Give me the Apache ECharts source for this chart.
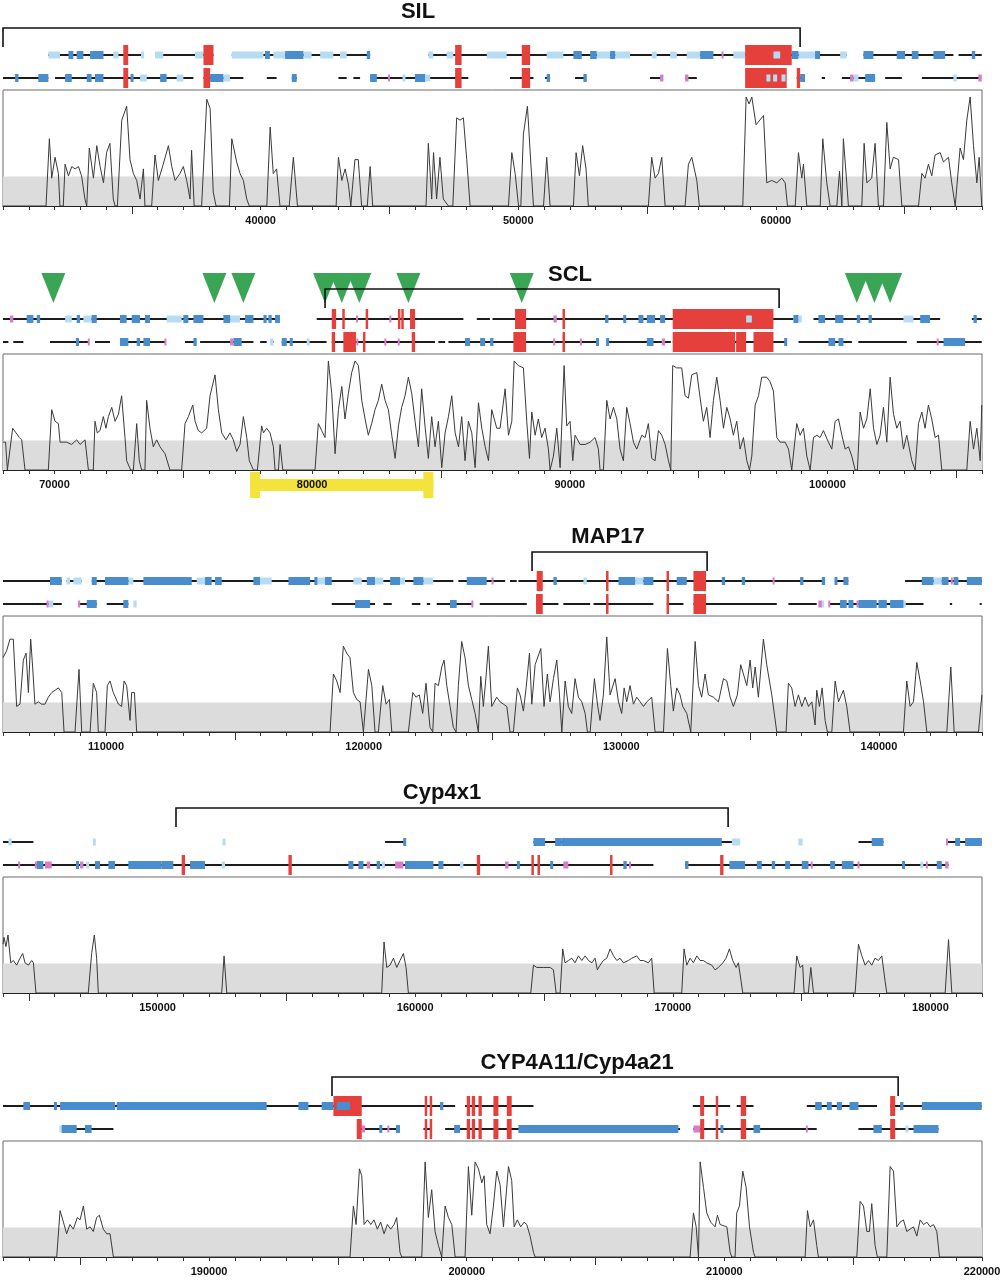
<!DOCTYPE html>
<html>
<head>
<meta charset="utf-8">
<script src="https://cdn.jsdelivr.net/npm/echarts@6/dist/echarts.min.js"></script>
<style>
html,body{margin:0;padding:0;background:#fff}
#chart{width:1000px;height:1280px}
</style>
</head>
<body>
<div id="chart"></div>
<script>
// panel ranges (bp) and tick labels
var panelRanges = [[30000,68000],[68000,106000],[106000,144000],[144000,182000],[182000,220000]];
var tickLabels = [
    [40000,50000,60000],
    [70000,80000,90000,100000],
    [110000,120000,130000,140000],
    [150000,160000,170000,180000],
    [190000,200000,210000,220000]
];

// genes: name, bracket span, label position
var geneNames = ['SIL','SCL','MAP17','Cyp4x1','CYP4A11/Cyp4a21'];
var geneSpans = [[30000,60940],[80500,98125],[126535,133330],[150715,172145],[194770,216745]];
var geneLabelAt = [46110,90010,129485,161040,204280];

// green triangles and yellow clone bar (panel 2)
var sclTriangles = [69955,76205,77330,80500,81150,81830,83735,88135,101140,101825,102435];
var cloneBar = [77590,84705];

// conservation profiles [bp, %]
var profile1 = [[30000,50],[31670,50],[31800,79],[31890,62],[32020,71],[32150,64],[32210,50],
[32340,50],[32410,68],[32540,63],[32670,67],[32800,66],[32930,67],[33050,63],[33180,53],[33250,50],
[33310,50],[33350,75],[33510,62],[33640,76],[33770,67],[33900,60],[34020,73],[34150,77],[34280,53],[34350,50],
[34440,50],[34610,87],[34800,93],[34930,70],[35060,64],[35190,61],[35320,53],[35450,66],[35510,50],
[35770,50],[35900,72],[36030,61],[36220,68],[36420,76],[36550,67],[36680,61],[36870,64],[37000,67],[37130,61],[37260,53],[37320,74],[37420,50],
[37710,50],[37910,96],[38040,92],[38160,56],[38270,50],
[38790,50],[38880,79],[39070,69],[39200,64],[39330,61],[39460,53],[39560,50],
[40240,50],[40370,84],[40490,64],[40620,66],[40750,50],
[41110,50],[41270,71],[41430,50],
[42930,50],[43020,71],[43150,61],[43280,66],[43410,59],[43500,50],
[43570,50],[43660,70],[43790,70],[43920,50],
[44140,50],[44250,67],[44350,50],
[46420,50],[46510,77],[46640,53],[46710,73],[46830,53],[46960,71],[47090,53],[47290,50],
[47460,50],[47610,88],[47740,87],[47870,88],[48000,70],[48130,50],
[49620,50],[49750,73],[49880,64],[50010,50],
[50100,50],[50200,81],[50355,93],[50485,69],[50590,50],
[50980,50],[51105,71],[51235,50],
[52140,50],[52245,73],[52375,63],[52500,76],[52630,66],[52720,50],
[55050,50],[55180,71],[55310,62],[55440,64],[55570,71],[55700,50],
[56475,50],[56605,68],[56735,71],[56930,61],[57030,50],
[58715,50],[58845,97],[58960,94],[59065,97],[59230,85],[59520,89],[59645,60],[59840,61],[60035,60],[60230,62],[60360,60],[60450,50],
[60750,50],[60875,73],[61005,62],[61070,68],[61200,50],
[61720,50],[61820,79],[61975,60],[62105,50],
[62365,50],[62470,65],[62560,50],[62620,79],[62750,60],[62815,50],
[63335,50],[63425,77],[63530,60],[63720,62],[63850,77],[63980,50],
[64175,50],[64305,86],[64435,66],[64560,71],[64760,70],[64890,50],
[65535,50],[65665,64],[65790,62],[65920,68],[66050,63],[66180,72],[66375,73],[66505,69],[66700,71],[66825,60],[66960,50],
[67020,50],[67150,75],[67280,70],[67410,87],[67540,97],[67670,76],[67800,60],[67890,71],[67990,50],[68000,50]];

var profile2 = [[68000,62],[68100,62],[68170,50],[68375,68],[68505,66],[68635,64],[68725,63],[68855,50],
[69760,50],[69890,76],[70020,71],[70150,70],[70215,62],[70470,62],[70665,61],[70860,63],[70990,61],[71185,63],[71275,54],[71315,50],
[71505,50],[71570,71],[71660,66],[71765,67],[71895,73],[71995,68],[72090,73],[72220,77],[72350,71],[72480,74],[72605,82],[72735,64],[72800,54],[72955,50],
[73060,50],[73190,70],[73290,54],[73380,50],[73510,50],[73575,80],[73705,68],[73835,60],[73965,63],[74095,60],[74290,57],[74480,50],
[74935,50],[75065,70],[75195,73],[75365,78],[75455,71],[75580,67],[75710,66],[75905,68],[76035,82],[76230,91],[76360,76],[76490,66],[76655,63],[76810,66],[76940,63],[77070,58],[77200,61],[77330,73],[77460,64],[77560,54],[77720,50],
[77875,50],[78040,69],[78110,66],[78235,68],[78365,66],[78495,60],[78560,50],[78690,50],[78755,61],[78860,50],
[80110,50],[80240,70],[80370,67],[80500,64],[80630,97],[80760,83],[80890,57],[81020,76],[81150,86],[81275,72],[81405,83],[81535,92],[81665,97],[81795,95],[81925,80],[82055,72],[82180,65],[82310,70],[82440,76],[82570,80],[82700,87],[82830,80],[82960,76],[83090,65],[83220,55],[83350,69],[83475,77],[83605,82],[83735,90],[83865,83],[83995,71],[84125,60],[84250,85],[84380,69],[84510,55],[84640,73],[84770,60],[84900,71],[85030,51],[85160,66],[85290,73],[85420,82],[85550,66],[85680,60],[85805,73],[85935,54],[86065,71],[86195,66],[86325,51],[86455,79],[86585,68],[86715,60],[86845,54],[86970,76],[87165,68],
[87294,68],[87490,85],[87620,65],[87750,71],[87840,97],[88005,95],[88200,94],[88330,71],[88435,55],[88525,75],[88655,65],[88780,72],[88910,64],[89040,68],[89170,59],[89235,50],[89365,56],[89495,68],[89625,51],[89780,95],[89880,69],[90010,71],[90115,54],[90205,65],[90400,61],[90595,61],[90790,62],[90980,64],[91110,59],[91175,50],
[91305,50],[91435,80],[91565,72],[91695,77],[91825,72],[91950,59],[92080,54],[92210,77],[92340,70],[92470,62],[92600,59],[92795,65],[92925,64],[93050,70],[93180,55],[93310,54],[93440,67],[93570,65],[93700,61],[93830,54],[93920,50],
[93995,95],[94150,94],[94345,94],[94475,82],[94605,81],[94735,91],[94930,92],[95060,81],[95185,71],[95315,77],[95445,64],[95575,80],[95705,90],[95835,80],[95965,68],[96095,77],[96225,72],[96350,65],[96480,71],[96610,59],[96740,64],[96870,54],[96975,50],[97065,56],[97195,78],[97325,82],[97450,90],[97645,90],[97775,88],[97905,84],[98035,64],[98165,62],[98360,62],[98490,59],[98615,50],
[98680,50],[98810,70],[98940,65],[99070,68],[99200,56],[99330,50],[99460,64],[99590,65],[99715,64],[99845,67],[100040,62],[100170,59],[100300,71],[100430,72],[100560,65],[100690,59],[100820,60],[100945,56],[101075,50],
[101165,50],[101270,75],[101400,68],[101530,72],[101660,85],[101790,68],[101920,61],[102045,65],[102175,77],[102305,62],[102435,90],[102565,74],[102695,68],[102820,71],[102950,59],[103080,65],[103275,54],[103405,50],[103535,70],[103665,75],[103790,68],[103920,78],[104050,72],[104180,64],[104310,65],[104440,50],
[105410,50],[105540,71],[105670,59],[105800,68],[105930,54],[105990,78]];

var profile3 = [[106000,82],[106140,85],[106270,90],[106400,90],[106530,61],[106660,62],[106790,81],[106895,84],[106985,67],[107075,90],[107150,78],[107240,62],[107370,63],[107500,62],[107630,62],[107760,65],[107890,67],[108020,68],[108150,69],[108280,67],[108370,50],
[108795,50],[108950,77],[109055,50],
[109380,50],[109505,71],[109635,67],[109700,50],
[109960,50],[110050,70],[110155,72],[110280,67],[110480,62],[110605,61],[110700,72],[110800,70],[110930,55],[110995,67],[111100,67],[111190,50],
[118695,50],[118825,75],[118955,72],[119085,67],[119210,87],[119340,84],[119470,82],[119600,67],[119730,64],[119860,63],[119990,50],
[120055,50],[120185,77],[120315,70],[120440,50],
[120570,50],[120740,70],[120870,62],[121000,64],[121090,50],
[121735,50],[121905,67],[122030,65],[122160,66],[122290,58],[122420,71],[122575,52],[122680,50],[122770,71],[122900,70],[123030,78],[123120,81],[123225,70],[123355,61],[123480,52],[123585,50],[123675,70],[123805,89],[123935,82],[124065,70],[124195,64],[124325,58],[124450,50],[124545,74],[124645,61],[124750,74],[124840,87],[124970,61],[125165,65],
[125294,63],[125425,62],[125555,61],[125680,50],[125810,50],[125965,69],[126070,66],[126200,59],[126305,69],[126435,84],[126525,62],[126655,79],[126875,86],[127000,61],[127130,75],[127235,63],[127365,73],[127495,81],[127600,66],[127690,50],[127820,72],[127945,61],[128075,58],[128205,73],[128335,65],[128465,63],[128595,58],[128685,50],[128790,50],[128955,73],[129085,61],[129175,55],[129305,66],[129435,91],[129565,66],[129760,73],[129890,63],[130015,58],[130110,69],[130210,63],[130340,70],[130470,62],[130600,65],[130730,63],[130860,61],[130990,63],[131180,65],[131310,50],
[131635,50],[131790,86],[131920,70],[132020,59],[132150,69],[132280,66],[132385,61],[132540,58],[132695,50],[132865,89],[132995,70],[133120,65],[133250,75],[133380,66],[133575,65],[133770,63],[133965,73],[134095,72],[134225,65],[134350,61],[134505,66],[134635,79],[134740,75],[134870,70],[135000,81],[135100,69],[135195,78],[135320,65],[135515,90],[135645,79],[135840,66],[136035,50],
[136395,50],[136485,71],[136615,69],[136745,61],[136875,66],[137005,61],[137135,65],[137265,61],[137395,63],[137520,53],[137585,68],[137690,61],[137795,69],[137910,55],[138000,50],[138170,50],[138300,72],[138430,63],[138620,68],[138750,61],[138880,50],
[140950,50],[141080,72],[141210,61],[141340,63],[141470,80],[141600,72],[141730,63],[141860,50],
[142635,50],[142790,78],[142920,50],
[143865,50],[143995,66]];

var profile4 = [[144000,71],[144040,74],[144115,70],[144195,75],[144300,63],[144400,64],[144530,62],[144660,65],[144765,67],[144855,63],[144985,62],[145115,64],[145180,63],[145280,50],
[147310,50],[147440,67],[147545,75],[147635,65],[147700,50],
[152490,50],[152580,66],[152685,50],
[158700,50],[158790,72],[158895,61],[159025,62],[159155,65],[159285,61],[159410,64],[159540,67],[159645,61],[159735,50],
[164485,50],[164590,62],[164720,61],[164845,61],[164975,61],[165105,61],[165235,61],[165365,60],[165470,50],
[165625,50],[165725,69],[165815,63],[165945,64],[166075,65],[166205,63],[166335,66],[166465,64],[166595,66],[166725,64],[166855,63],[166980,65],[167070,60],[167175,62],[167305,64],[167435,65],[167565,69],[167695,66],[167825,64],[167950,65],[168080,63],[168275,64],[168405,65],[168600,66],[168730,64],[168860,64],[169050,63],[169180,65],[169275,50],
[170345,50],[170435,69],[170540,62],[170670,65],[170800,63],[170930,66],[171060,64],[171185,64],[171315,63],[171510,62],[171640,60],[171770,61],[171940,63],[172065,65],[172195,69],[172325,64],[172455,61],[172545,63],[172715,50],
[174705,50],[174810,66],[174940,61],[175040,62],[175095,50],[175260,50],[175355,61],[175460,50],
[177075,50],[177205,71],[177335,66],[177465,62],[177595,64],[177720,62],[177850,65],[177980,64],[178110,66],[178240,55],[178305,50],
[180570,50],[180700,73],[180830,50],[182000,50]];

var profile5 = [[182000,50],[184085,50],[184215,70],[184345,65],[184470,60],[184600,64],[184730,62],[184885,67],[184990,66],[185120,72],[185250,62],[185380,63],[185505,61],[185635,67],[185740,68],[185895,62],[186025,60],[186155,60],[186285,50],
[195470,50],[195600,72],[195705,64],[195835,88],[195925,85],[196015,64],[196145,66],[196275,64],[196400,66],[196530,62],[196660,65],[196790,60],[196920,64],[197050,62],[197180,64],[197280,67],[197410,52],[197475,50],
[198255,50],[198385,91],[198510,67],[198640,79],[198770,61],[198900,55],[199030,50],[199160,72],[199290,67],[199420,64],[199550,50],
[199935,50],[200065,89],[200195,68],[200325,91],[200455,88],[200585,82],[200675,85],[200775,64],[200905,60],[201035,72],[201165,87],[201295,81],
[201425,63],[201490,63],[201620,89],[201745,83],[201840,63],[201965,66],[202095,63],[202225,65],[202330,64],[202460,59],[202590,52],[202655,50],
[208670,50],[208800,69],[208905,63],[208995,50],[209060,91],[209190,80],[209315,69],[209470,65],[209640,63],[209730,68],[209835,64],[210095,63],[210225,52],[210290,50],
[210415,50],[210480,69],[210585,72],[210715,87],[210845,80],[210975,63],[211130,52],[211195,50],
[213135,50],[213225,70],[213330,63],[213460,66],[213585,55],[213650,50],
[215140,50],[215270,74],[215400,72],[215530,61],[215630,61],[215720,73],[215850,55],[215940,50],
[216305,50],[216435,89],[216565,87],[216695,63],[216820,65],[216950,66],[217080,61],[217210,62],[217340,63],[217470,59],[217600,66],[217730,64],[217860,65],[217990,63],[218115,64],[218245,61],[218350,50],[220000,50]];

// annotation tracks [start, end, kind]: l line, lb light blue, b blue, p pink, r red exon, in inner light box
var silRow1 = [[31760,35380,'l'],[35900,38170,'l'],[38880,44250,'l'],[46510,62750,'l'],[63400,66890,'l'],[67090,67990,'l'],
[31760,32210,'lb'],[34280,34480,'lb'],[35380,35450,'lb'],[35900,36220,'lb'],[37450,37780,'lb'],[38880,40110,'lb'],[40490,40950,'lb'],[41660,41980,'lb'],[42310,42820,'lb'],[43080,43340,'lb'],[46510,46700,'lb'],[47220,47480,'lb'],[48780,49550,'lb'],[51105,51750,'lb'],[53045,53565,'lb'],[53760,54340,'lb'],[55180,55375,'lb'],[55895,56155,'lb'],[56540,57060,'lb'],[58350,58805,'lb'],[60875,61520,'lb'],[62495,62750,'lb'],
[32540,32730,'b'],[32860,33120,'b'],[33380,33900,'b'],[40170,40360,'b'],[40950,41660,'b'],[44120,44250,'b'],[52140,52465,'b'],[52790,53045,'b'],[53565,53760,'b'],[57060,57575,'b'],[60615,60875,'b'],[61520,61715,'b'],[63400,63785,'b'],[64690,65015,'b'],[65275,65535,'b'],[66115,66570,'b'],[67605,67735,'b'],
[57900,57960,'p'],
[34670,34860,'r'],[37780,38170,'r'],[47550,47800,'r'],[50135,50460,'r'],[58805,60615,'r'],
[59905,60165,'in']];
var silRow2 = [[30000,31760,'l'],[32020,37390,'l'],[37780,39330,'l'],[40240,40620,'l'],[41210,41400,'l'],[43020,43340,'l'],[43600,43860,'l'],[44250,48060,'l'],[49680,50590,'l'],[51040,51235,'l'],[52205,52595,'l'],[55115,55570,'l'],[56475,56930,'l'],[60810,61130,'l'],[61780,61910,'l'],[62560,63850,'l'],[64240,64890,'l'],[65665,67930,'l'],
[30470,30600,'b'],[31370,31760,'b'],[32410,32670,'b'],[33250,33440,'b'],[33570,33900,'b'],[34960,35060,'b'],[36100,36350,'b'],[38040,38550,'b'],[41210,41400,'b'],[44250,44510,'b'],[45990,46380,'b'],[51105,51235,'b'],[52530,52660,'b'],[60940,61130,'b'],[63465,63850,'b'],
[35320,35580,'lb'],[36740,37000,'lb'],[38550,38810,'lb'],[45530,45600,'lb'],[46380,46580,'lb'],[63010,63205,'lb'],[66890,67020,'lb'],
[44960,45010,'p'],[55505,55635,'p'],[56475,56605,'p'],[62880,63010,'p'],[67860,67990,'p'],
[34670,34860,'r'],[37780,38040,'r'],[47550,47800,'r'],[50135,50460,'r'],[58805,60420,'r'],[60810,60940,'r'],
[59645,59775,'in'],[59905,60035,'in'],[60230,60360,'in']];

var sclRow1 = [[68000,78750,'l'],[80175,85870,'l'],[86390,86900,'l'],[87000,98680,'l'],[99460,104375,'l'],[105605,105990,'l'],
[68270,68400,'p'],[81705,81780,'p'],[82995,83075,'p'],[89365,89495,'p'],
[68920,69180,'b'],[69310,69440,'b'],[70860,70990,'b'],[71440,71640,'b'],[72540,72800,'b'],[72995,73320,'b'],[73510,73705,'b'],[75000,75195,'b'],[75390,75780,'b'],[76555,76815,'b'],[77395,77720,'b'],[78110,78235,'b'],[78300,78430,'b'],[78560,78750,'b'],[91370,91500,'b'],[92080,92185,'b'],[92665,92860,'b'],[92990,93310,'b'],[93505,93700,'b'],[98680,98875,'b'],[99650,99910,'b'],[100300,100620,'b'],[101140,101270,'b'],[101595,101725,'b'],[103600,103985,'b'],[105670,105800,'b'],
[70410,70670,'lb'],[71120,71440,'lb'],[74355,74935,'lb'],[76815,77200,'lb'],[98875,99005,'lb'],[102950,103340,'lb'],
[80760,80930,'r'],[81185,81250,'r'],[82080,82170,'r'],[83345,83410,'r'],[83475,83540,'r'],[83800,83995,'r'],[87875,88305,'r'],[89725,89805,'r'],[93995,97905,'r'],
[96845,97065,'in']];
var sclRow2 = [[68000,68210,'l'],[68400,68790,'l'],[69825,71320,'l'],[71570,72155,'l'],[72540,74290,'l'],[75065,75455,'l'],[75650,77720,'l'],[77980,78235,'l'],[78365,78500,'l'],[78820,80560,'l'],[80760,84770,'l'],[84900,85160,'l'],[85290,91110,'l'],[91435,93920,'l'],[94000,98430,'l'],[98880,100950,'l'],[101200,103080,'l'],[103470,105990,'l'],
[70860,70925,'b'],[72540,72865,'b'],[73190,73320,'b'],[73450,73705,'b'],[75390,75520,'b'],[76945,77265,'b'],[78820,79015,'b'],[79140,79240,'b'],[85935,86130,'b'],[86520,86715,'b'],[86910,87035,'b'],[91045,91110,'b'],[91435,91500,'b'],[92990,93250,'b'],[98330,98430,'b'],[100040,100300,'b'],[100430,100620,'b'],[104505,105345,'b'],
[78365,78495,'lb'],[79790,79900,'lb'],
[71310,71350,'p'],[74280,74330,'p'],[76815,76945,'p'],[81720,81790,'p'],[82810,82870,'p'],[83330,83390,'p'],[89360,89430,'p'],[90400,90460,'p'],[93570,93700,'p'],[104250,104310,'p'],
[80760,80890,'r'],[81210,81700,'r'],[81990,82050,'r'],[83865,83995,'r'],[87810,88305,'r'],[89725,89805,'r'],[93995,96415,'r'],[96455,96845,'r'],[97130,97905,'r']];

var mapRow1 = [[106000,108280,'l'],[108470,109055,'l'],[109445,123480,'l'],[123675,125490,'l'],[125680,125940,'l'],[126005,137845,'l'],[138300,138810,'l'],[141015,143995,'l'],
[107825,108280,'b'],[109445,109640,'b'],[109960,110865,'b'],[111450,113325,'b'],[113840,114100,'b'],[114230,114490,'b'],[115720,115975,'b'],[117080,117920,'b'],[118110,118180,'b'],[118500,118760,'b'],[120120,120440,'b'],[121025,121410,'b'],[121930,122315,'b'],[124000,124775,'b'],[127365,127495,'b'],[129890,130535,'b'],[130860,131245,'b'],[132150,132540,'b'],[133900,134030,'b'],[134675,134805,'b'],[136940,137070,'b'],[137780,137910,'b'],[138300,138365,'b'],[138620,138815,'b'],[141665,142115,'b'],[142440,142700,'b'],[142895,143085,'b'],[143410,143995,'b'],
[108470,108600,'lb'],[108730,109055,'lb'],[110865,111060,'lb'],[113520,113840,'lb'],[115975,116430,'lb'],[118180,118500,'lb'],[119600,119925,'lb'],[120440,120765,'lb'],[121410,121605,'lb'],[122315,122700,'lb'],[128530,128660,'lb'],[130535,130860,'lb'],[142115,142440,'lb'],
[124970,125035,'p'],[135880,135945,'p'],[142790,142865,'p'],
[126715,126950,'r'],[129410,129500,'r'],[131765,131840,'r'],[132800,133290,'r']];
var mapRow2 = [[106000,108280,'l'],[108925,109640,'l'],[110025,110865,'l'],[118760,120440,'l'],[120765,121090,'l'],[121870,122200,'l'],[122450,122580,'l'],[122835,124195,'l'],[124505,126330,'l'],[126690,127560,'l'],[127750,128790,'l'],[128920,131245,'l'],[131765,132410,'l'],[132800,136035,'l'],[136485,137585,'l'],[138100,141730,'l'],[142750,142840,'l'],[143910,143990,'l'],
[109250,109640,'b'],[110670,110865,'b'],[119665,120250,'b'],[123350,123610,'b'],[138490,138750,'b'],[138815,139010,'b'],[139200,139915,'b'],[139980,140305,'b'],[140435,140950,'b'],
[107760,107950,'lb'],[111060,111190,'lb'],[137780,137845,'lb'],[140950,141020,'lb'],
[107700,107760,'p'],[108925,108990,'p'],[124190,124250,'p'],[137650,137780,'p'],[138040,138105,'p'],[139135,139200,'p'],
[126690,126950,'r'],[129410,129500,'r'],[131765,131840,'r'],[132800,133290,'r']];

var cypRow1 = [[144000,145180,'l'],[158830,159600,'l'],[164590,172610,'l'],[177205,178175,'l'],[180635,182000,'l'],
[144210,144340,'lb'],[147500,147590,'lb'],[152540,152620,'lb'],[172290,172610,'lb'],[174870,175040,'lb'],
[159540,159645,'b'],[164590,165040,'b'],[165430,165690,'b'],[165690,171900,'b'],[177720,178175,'b'],[180960,181150,'b'],[181345,181995,'b'],
[180610,180675,'p']];
var cypRow2 = [[144000,169245,'l'],[170475,180700,'l'],
[144595,144660,'p'],[145240,145310,'p'],[145630,145890,'p'],[146990,147120,'p'],[158120,158250,'p'],[159220,159540,'p'],[163490,163620,'p'],[165750,165945,'p'],[168305,168370,'p'],[175360,175420,'p'],[177175,177240,'p'],[179825,179890,'p'],[180570,180700,'p'],
[145310,145565,'b'],[146860,146925,'b'],[147570,147765,'b'],[148090,148350,'b'],[148865,150160,'b'],[150160,150610,'b'],[151260,151840,'b'],[157405,157600,'b'],[157795,157990,'b'],[158505,158635,'b'],[159605,160705,'b'],[160900,161095,'b'],[163970,164040,'b'],[165265,165330,'b'],[168080,168210,'b'],[170475,170605,'b'],[172195,172805,'b'],[173260,173450,'b'],[173840,173970,'b'],[174360,174550,'b'],[175005,175265,'b'],[176105,176300,'b'],[176560,177010,'b'],[178920,178990,'b'],[180245,180440,'b'],
[147250,147320,'lb'],[152490,152620,'lb'],[158730,158800,'lb'],[161740,161870,'lb'],[179630,179700,'lb'],
[150935,151065,'r'],[155080,155210,'r'],[162390,162520,'r'],[164525,164590,'r'],[164745,164845,'r'],[167565,167655,'r'],[171835,171965,'r']];

var cypaRow1 = [[182000,199550,'l'],[199935,202590,'l'],[208775,210225,'l'],[210480,211130,'l'],[213200,215925,'l'],[216435,219990,'l'],
[182790,183050,'b'],[184000,184070,'b'],[184215,186350,'b'],[186415,192235,'b'],[193465,193855,'b'],[194370,194825,'b'],[198965,199090,'b'],[213525,213780,'b'],[213975,214170,'b'],[214365,214560,'b'],[214855,215205,'b'],[216820,216950,'b'],[217665,219990,'b'],
[194825,195925,'r'],[198385,198450,'r'],[198580,198640,'r'],[200000,200130,'r'],[200195,200325,'r'],[200455,200585,'r'],[201035,201230,'r'],[201555,201745,'r'],[209060,209215,'r'],[209680,209745,'r'],[210635,210845,'r'],[216435,216630,'r'],
[194955,195470,'ib']];
var cypaRow2 = [[184215,186285,'l'],[195860,197410,'l'],[198320,198580,'l'],[199160,208280,'l'],[208800,213585,'l'],[215205,218310,'l'],
[184280,184860,'b'],[185180,185440,'b'],[196630,196700,'b'],[197255,197410,'b'],[199510,199740,'b'],[202005,208215,'b'],[209870,209940,'b'],[211130,211390,'b'],[215785,216110,'b'],[217340,218310,'b'],
[184215,184280,'lb'],[217055,217120,'lb'],
[195925,196055,'p'],[196920,196995,'p'],[208800,209060,'p'],[213170,213230,'p'],
[195730,195925,'r'],[198385,198450,'r'],[198580,198640,'r'],[200000,200130,'r'],[200195,200325,'r'],[200455,200585,'r'],[201035,201230,'r'],[201555,201745,'r'],[209060,209215,'r'],[209680,209745,'r'],[210635,210845,'r'],[216435,216630,'r']];

var profiles = [profile1, profile2, profile3, profile4, profile5];
var trackRows = [[silRow1, silRow2],[sclRow1, sclRow2],[mapRow1, mapRow2],[cypRow1, cypRow2],[cypaRow1, cypaRow2]];

// layout
var boxTops = [90, 354, 616, 877, 1141];
var boxH = 116;
var bracketOff = [62, 65, 64, 69, 64];
var labelOff = [78, 79, 79, 84, 78];
var rowOff = [-35, -12];
var FONT = '"Liberation Sans", Arial, Helvetica, sans-serif';

var KIND = {l:0, lb:1, b:2, p:3, r:4, 'in':5, ib:6};
var KIND_COLOR = ['#1c1c1c','#b6dcf3','#4a8dcf','#d77cc9','#e6403d','#b6dcf3','#4a8dcf'];
var KIND_H = [2, 7, 8, 7, 20, 7, 8];
var KIND_MINW = [1, 3, 3, 2, 2.5, 4, 4];

function trackData(rows) {
    var out = [];
    rows.forEach(function (row, r) {
        row.forEach(function (f) { out.push([f[0], f[1], r, KIND[f[2]]]); });
    });
    out.sort(function (a, b) { return a[3] - b[3]; });
    return out;
}

function renderTrack(params, api) {
    var x0 = api.coord([api.value(0), 50])[0];
    var x1 = api.coord([api.value(1), 50])[0];
    var k = api.value(3);
    var cy = params.coordSys.y + rowOff[api.value(2)];
    var h = KIND_H[k];
    var w = x1 - x0;
    var x = x0;
    if (w < KIND_MINW[k]) { x = (x0 + x1) / 2 - KIND_MINW[k] / 2; w = KIND_MINW[k]; }
    return { type: 'rect', shape: { x: x, y: cy - h / 2, width: w, height: h }, style: { fill: KIND_COLOR[k] } };
}

function makeBracket(i) {
    return function (params, api) {
        var x0 = api.coord([api.value(0), 50])[0];
        var x1 = api.coord([api.value(1), 50])[0];
        var xl = api.coord([api.value(2), 50])[0];
        var top = params.coordSys.y;
        var by = top - bracketOff[i];
        return {
            type: 'group',
            children: [
                { type: 'polyline', shape: { points: [[x0, by + 19], [x0, by], [x1, by], [x1, by + 19]] },
                  style: { stroke: '#111', lineWidth: 1.6, fill: null } },
                { type: 'text', x: xl, y: top - labelOff[i],
                  style: { text: geneNames[i], font: 'bold 22px ' + FONT, fill: '#111', align: 'center', verticalAlign: 'middle' } }
            ]
        };
    };
}

function renderTriangle(params, api) {
    var x = api.coord([api.value(0), 50])[0];
    var top = params.coordSys.y;
    return { type: 'polygon', shape: { points: [[x - 12, top - 81], [x + 12, top - 81], [x, top - 51]] },
             style: { fill: '#3aa655' } };
}

function renderCloneBar(params, api) {
    var x0 = api.coord([api.value(0), 50])[0];
    var x1 = api.coord([api.value(1), 50])[0];
    var b = params.coordSys.y + params.coordSys.height;
    var c = '#f3e33b';
    return {
        type: 'group',
        children: [
            { type: 'rect', shape: { x: x0, y: b + 9, width: x1 - x0, height: 12 }, style: { fill: c } },
            { type: 'rect', shape: { x: x0, y: b + 2, width: 10, height: 26 }, style: { fill: c } },
            { type: 'rect', shape: { x: x1 - 10, y: b + 2, width: 10, height: 26 }, style: { fill: c } }
        ]
    };
}

var grids = [], xAxes = [], yAxes = [], series = [];
var longTickAxes = [];
for (var i = 0; i < 5; i++) {
    var mn = panelRanges[i][0], mx = panelRanges[i][1];
    var minor = [], major = [];
    for (var t = Math.ceil(mn / 1000) * 1000; t <= mx; t += 1000) {
        minor.push(t);
        if (t % 10000 === 5000) major.push(t);
    }
    grids.push({ left: 3, right: 18, top: boxTops[i], height: boxH, show: true,
                 outerBoundsMode: 'none', containLabel: false,
                 borderColor: '#6a6a6a', borderWidth: 1, backgroundColor: 'transparent' });
    xAxes.push({
        type: 'value', gridIndex: i, min: mn, max: mx, position: 'bottom',
        axisLine: { show: true, lineStyle: { color: '#222', width: 1.2 } },
        axisTick: { show: true, customValues: minor, length: 4, lineStyle: { color: '#333' } },
        axisLabel: { customValues: tickLabels[i], fontSize: 11, fontWeight: 'bold', color: '#111',
                     fontFamily: FONT, margin: 9, formatter: function (v) { return String(v); } },
        splitLine: { show: false }
    });
    longTickAxes.push({
        type: 'value', gridIndex: i, min: mn, max: mx, position: 'bottom',
        axisLine: { show: false },
        axisTick: { show: true, customValues: major, length: 8, lineStyle: { color: '#333' } },
        axisLabel: { show: false },
        splitLine: { show: false }
    });
    yAxes.push({ type: 'value', gridIndex: i, min: 50, max: 100, show: false });

    series.push({
        type: 'line', xAxisIndex: i, yAxisIndex: i, data: profiles[i],
        showSymbol: false, symbol: 'none', silent: true,
        lineStyle: { color: '#3a3a3a', width: 1 },
        markArea: { silent: true, itemStyle: { color: '#dcdcdc' },
                    data: [[{ yAxis: 50 }, { yAxis: 62.7 }]] },
        z: 3
    });
    series.push({
        type: 'custom', xAxisIndex: i, yAxisIndex: i, clip: false, silent: true,
        encode: { x: [0, 1], y: 2 },
        renderItem: renderTrack, data: trackData(trackRows[i]), z: 4
    });
    series.push({
        type: 'custom', xAxisIndex: i, yAxisIndex: i, clip: false, silent: true,
        encode: { x: [0, 1], y: 2 },
        renderItem: makeBracket(i),
        data: [[geneSpans[i][0], geneSpans[i][1], geneLabelAt[i]]], z: 6
    });
}
// SCL panel extras
series.push({
    type: 'custom', xAxisIndex: 1, yAxisIndex: 1, clip: false, silent: true,
    encode: { x: 0, y: 0 }, renderItem: renderTriangle,
    data: sclTriangles.map(function (v) { return [v]; }), z: 5
});
series.push({
    type: 'custom', xAxisIndex: 1, yAxisIndex: 1, clip: false, silent: true,
    encode: { x: [0, 1], y: 1 }, renderItem: renderCloneBar,
    data: [cloneBar], z: -1
});

var myChart = echarts.init(document.getElementById('chart'), null, { renderer: 'canvas' });
myChart.setOption({
    animation: false,
    backgroundColor: '#ffffff',
    grid: grids,
    xAxis: xAxes.concat(longTickAxes),
    yAxis: yAxes,
    series: series
});
</script>
</body>
</html>
